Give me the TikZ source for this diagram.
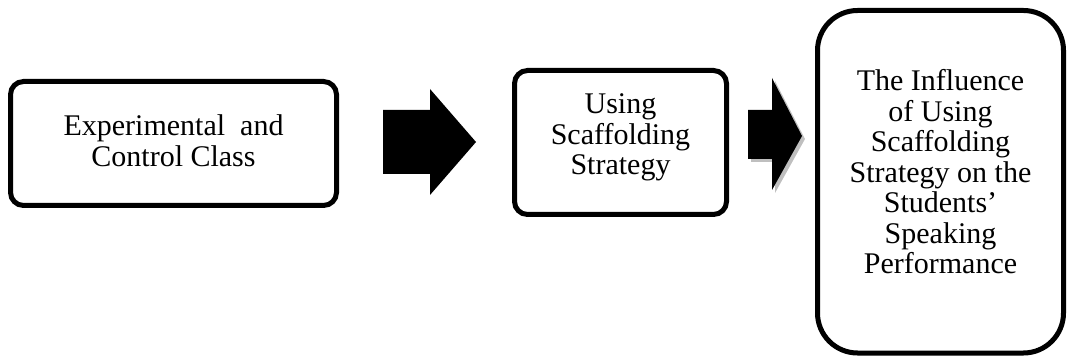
\documentclass[tikz,border=0pt]{standalone}
\usepackage{fontspec}
\setmainfont{Liberation Serif}
\begin{document}
\begin{tikzpicture}[x=1pt,y=-1pt,
  box/.style={draw=black, line width=5pt, inner sep=0pt},
  txt/.style={align=center, inner sep=0pt, font=\fontsize{30}{30.5}\selectfont},
  blockarrow/.style={fill=black},
  arrowshadow/.style={fill=black!25}]
\useasboundingbox (0,0) rectangle (1068,358);
\node[box, rounded corners=13pt, minimum width=326pt, minimum height=124pt] (b1) at (173.5,143.5) {};
\node[txt] (t1) at ([yshift=3pt]b1.center) {Experimental~ and\\Control Class};
\node[box, rounded corners=13pt, minimum width=212pt, minimum height=144pt] (b2) at (620.5,142.5) {};
\node[txt] (t2) at ([yshift=5pt]b2.center) {Using\\Scaffolding\\Strategy};
\node[box, rounded corners=40pt, minimum width=246pt, minimum height=342.5pt] (b3) at (940.5,181.75) {};
\node[txt] (t3) at ([yshift=10pt]b3.center) {The Influence\\of Using\\Scaffolding\\Strategy on the\\Students’\\Speaking\\Performance};
% arrow 1
\fill[blockarrow] (383,110) -- (430,110) -- (430,89) -- (476,142) -- (430,195) -- (430,174) -- (383,174) -- cycle;
% arrow 2 with shadow
\fill[arrowshadow] (751,113) -- (775,113) -- (775,81) -- (805,139) -- (775,193) -- (775,162) -- (751,162) -- cycle;
\fill[blockarrow] (748,110) -- (772,110) -- (772,78) -- (802,136) -- (772,190) -- (772,159) -- (748,159) -- cycle;
\end{tikzpicture}
\end{document}
